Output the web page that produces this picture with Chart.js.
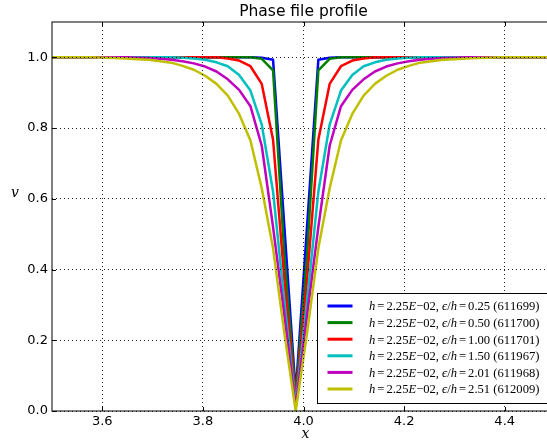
<!DOCTYPE html>
<html>
<head>
<meta charset="utf-8">
<title>Phase file profile</title>
<script src="https://cdn.jsdelivr.net/npm/chart.js@4.4.0/dist/chart.umd.min.js"></script>
<style>
  html, body { margin: 0; padding: 0; overflow: hidden; background: #fff; }
  canvas { display: block; }
</style>
</head>
<body>
<canvas id="profileChart" width="555" height="442"></canvas>
<script>
// node positions along x (spacing h = 0.0225)
const xs = [
  3.4895, 3.512, 3.5345, 3.557, 3.5795, 3.602, 3.6245, 3.647, 3.6695, 3.692,
  3.7145, 3.737, 3.7595, 3.782, 3.8045, 3.827, 3.8495, 3.872, 3.8945, 3.917,
  3.9395, 3.962, 3.9845, 4.007, 4.0295, 4.052, 4.0745, 4.097, 4.1195, 4.142,
  4.1645, 4.187, 4.2095, 4.232, 4.2545, 4.277, 4.2995, 4.322, 4.3445, 4.367,
  4.3895, 4.412, 4.4345, 4.457, 4.4795, 4.502
];

const xTicks = [3.6, 3.8, 4.0, 4.2, 4.4];
const yTicks = [0.0, 0.2, 0.4, 0.6, 0.8, 1.0];

const labels = [
  'h=2.25E\u221202, \u03f5/h=0.25 (611699)',
  'h=2.25E\u221202, \u03f5/h=0.50 (611700)',
  'h=2.25E\u221202, \u03f5/h=1.00 (611701)',
  'h=2.25E\u221202, \u03f5/h=1.50 (611967)',
  'h=2.25E\u221202, \u03f5/h=2.01 (611968)',
  'h=2.25E\u221202, \u03f5/h=2.51 (612009)'
];

const v025 = [
  1, 1, 1, 1, 1, 1, 1, 1, 1, 1, 1, 1, 1, 1, 1, 1, 1, 1, 1,
  0.999, 0.993, 0.52, 0.05, 0.52, 0.993, 0.999,
  1, 1, 1, 1, 1, 1, 1, 1, 1, 1, 1, 1, 1, 1, 1, 1, 1, 1, 1, 1
];
const v050 = [
  1, 1, 1, 1, 1, 1, 1, 1, 1, 1, 1, 1, 1, 1, 1, 1, 1, 1, 1,
  0.996, 0.963, 0.44, 0.04, 0.44, 0.963, 0.996,
  1, 1, 1, 1, 1, 1, 1, 1, 1, 1, 1, 1, 1, 1, 1, 1, 1, 1, 1, 1
];
const v100 = [
  1, 1, 1, 1, 1, 1, 1, 1, 1, 1, 1, 1, 1, 1, 1, 1,
  0.997, 0.991, 0.975, 0.925, 0.767, 0.37, 0.03, 0.37, 0.767, 0.925, 0.975, 0.991, 0.997,
  1, 1, 1, 1, 1, 1, 1, 1, 1, 1, 1, 1, 1, 1, 1, 1, 1
];
const v150 = [
  1, 1, 1, 1, 1, 1, 1, 1, 1, 1, 1, 1,
  0.999, 0.997, 0.993, 0.986, 0.975, 0.95, 0.906, 0.81, 0.62, 0.31, 0.02,
  0.31, 0.62, 0.81, 0.906, 0.95, 0.975, 0.986, 0.993, 0.997, 0.999,
  1, 1, 1, 1, 1, 1, 1, 1, 1, 1, 1, 1, 1
];
const v201 = [
  1, 1, 1, 1, 1, 1, 1, 1,
  0.999, 0.998, 0.996, 0.993, 0.989, 0.983, 0.974, 0.96, 0.938, 0.908, 0.862, 0.75, 0.52, 0.27, 0.01,
  0.27, 0.52, 0.75, 0.862, 0.908, 0.938, 0.96, 0.974, 0.983, 0.989, 0.993, 0.996, 0.998, 0.999,
  1, 1, 1, 1, 1, 1, 1, 1, 1
];
const v251 = [
  1, 1, 1, 1, 1,
  0.999, 0.998, 0.997, 0.995, 0.993, 0.989, 0.985, 0.976, 0.965, 0.948, 0.925, 0.892, 0.84, 0.765, 0.63, 0.46, 0.22, 0,
  0.22, 0.46, 0.63, 0.765, 0.84, 0.892, 0.925, 0.948, 0.965, 0.976, 0.985, 0.989, 0.993, 0.995, 0.997, 0.998, 0.999,
  1, 1, 1, 1, 1, 1
];

const series = [v025, v050, v100, v150, v201, v251];
const colors = ['#0000ff', '#008000', '#ff0000', '#00bfbf', '#bf00bf', '#bfbf00'];

// mathtext-like legend label: h, E and epsilon in italics
function drawMathLabel(ctx, text, x, y, size, measureOnly) {
  let cx = x;
  for (const ch of text) {
    const italic = 'hE\u03f5'.includes(ch);
    ctx.font = (italic ? 'italic ' : '') + size + 'px "Liberation Serif", "DejaVu Serif", serif';
    const gap = ch === '=' ? 2 : 0;
    cx += gap;
    if (!measureOnly) ctx.fillText(ch, cx, y);
    cx += ctx.measureText(ch).width + gap;
  }
  return cx - x;
}

const framePlugin = {
  id: 'frame',
  afterDraw(chart) {
    const { ctx, chartArea } = chart;
    const { left, right, top, bottom } = chartArea;
    const sx = chart.scales.x, sy = chart.scales.y;
    ctx.save();

    // spines
    ctx.strokeStyle = '#000';
    ctx.lineWidth = 1;
    ctx.strokeRect(left, top, right - left, bottom - top);

    // inward tick marks
    ctx.beginPath();
    xTicks.forEach(t => {
      const px = Math.round(sx.getPixelForValue(t)) + 0.5;
      ctx.moveTo(px, bottom); ctx.lineTo(px, bottom - 4);
      ctx.moveTo(px, top); ctx.lineTo(px, top + 4);
    });
    yTicks.forEach(t => {
      const py = Math.round(sy.getPixelForValue(t)) + 0.5;
      ctx.moveTo(left, py); ctx.lineTo(left + 4, py);
      ctx.moveTo(right, py); ctx.lineTo(right - 4, py);
    });
    ctx.stroke();

    // axis labels
    ctx.fillStyle = '#000';
    ctx.font = 'italic 14px "DejaVu Serif", serif';
    ctx.textAlign = 'center';
    ctx.textBaseline = 'alphabetic';
    ctx.fillText('x', (left + right) / 2 + 2, 438);
    ctx.fillText('v', 15, 197);

    // legend, lower right inside the axes
    const size = 12.6;
    ctx.textAlign = 'left';
    ctx.textBaseline = 'middle';
    let textW = 0;
    labels.forEach(l => { textW = Math.max(textW, drawMathLabel(ctx, l, 0, 0, size, true)); });
    const boxW = Math.round(10 + 25 + 16.5 + textW + 8);
    const boxH = 110;
    const bx = Math.round(right - 8.5 - boxW) + 0.5;
    const by = Math.round(bottom - 8.5 - boxH) + 0.5;
    ctx.fillStyle = '#fff';
    ctx.fillRect(bx, by, boxW, boxH);
    ctx.strokeStyle = '#000';
    ctx.lineWidth = 1;
    ctx.strokeRect(bx, by, boxW, boxH);
    labels.forEach((l, i) => {
      const ry = by + 12.5 + i * 16.6;
      ctx.strokeStyle = colors[i];
      ctx.lineWidth = 3;
      ctx.beginPath();
      ctx.moveTo(bx + 10, ry);
      ctx.lineTo(bx + 35, ry);
      ctx.stroke();
      ctx.fillStyle = '#000';
      drawMathLabel(ctx, l, bx + 51.5, ry + 1, size, false);
    });
    ctx.restore();
  }
};

const ctx = document.getElementById('profileChart').getContext('2d');

new Chart(ctx, {
  type: 'line',
  data: {
    datasets: series.map((vals, i) => ({
      label: labels[i],
      data: xs.map((x, j) => ({ x: x, y: vals[j] })),
      borderColor: colors[i],
      borderWidth: 2.5,
      borderJoinStyle: 'round',
      pointRadius: 0,
      tension: 0,
      fill: false,
      order: series.length - i
    }))
  },
  options: {
    responsive: false,
    animation: false,
    devicePixelRatio: 1,
    layout: { padding: 0 },
    plugins: {
      legend: { display: false },
      tooltip: { enabled: false },
      title: {
        display: true,
        text: 'Phase file profile',
        fullSize: false,
        color: '#000',
        font: { family: '"DejaVu Sans"', size: 15.5, weight: 'normal' },
        padding: { top: 3, bottom: 0.4 }
      }
    },
    scales: {
      x: {
        type: 'linear',
        min: 3.5,
        max: 4.5,
        afterFit: scale => { scale.height = 31; },
        afterBuildTicks: scale => { scale.ticks = xTicks.map(v => ({ value: v })); },
        ticks: {
          autoSkip: false,
          maxRotation: 0,
          padding: 3,
          color: '#000',
          font: { family: '"DejaVu Sans"', size: 13 },
          callback: v => v.toFixed(1)
        },
        grid: { color: 'rgba(0,0,0,0.85)', lineWidth: 1, drawTicks: false, z: 1 },
        border: { display: false, dash: [1, 3] }
      },
      y: {
        type: 'linear',
        min: 0,
        max: 1.1,
        afterFit: scale => { scale.width = 52; },
        afterBuildTicks: scale => { scale.ticks = yTicks.map(v => ({ value: v })); },
        ticks: {
          padding: 4,
          color: '#000',
          font: { family: '"DejaVu Sans"', size: 13 },
          callback: v => v.toFixed(1)
        },
        grid: { color: 'rgba(0,0,0,0.85)', lineWidth: 1, drawTicks: false, z: 1 },
        border: { display: false, dash: [1, 3] }
      }
    }
  },
  plugins: [framePlugin]
});
</script>
</body>
</html>
